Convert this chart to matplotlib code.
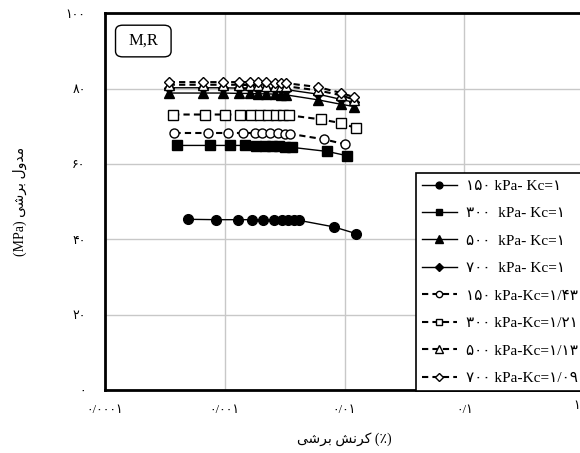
import matplotlib
matplotlib.use("Agg")
import matplotlib.pyplot as plt
from matplotlib.patches import FancyBboxPatch

plt.rcParams['font.family'] = ['Liberation Serif', 'DejaVu Sans']

# strain (%) and shear modulus (MPa)
strain_150_k1 = [0.00049, 0.00085, 0.0013, 0.0017, 0.0021, 0.0026, 0.0030, 0.0034, 0.0038, 0.0042, 0.0081, 0.0125]
mod_150_k1 = [45.3, 45.2, 45.2, 45.2, 45.1, 45.0, 45.0, 45.0, 45.0, 45.0, 43.3, 41.5]

strain_300_k1 = [0.00040, 0.00075, 0.0011, 0.00147, 0.00184, 0.00215, 0.00246, 0.00282, 0.00316, 0.00362, 0.0072, 0.0104]
mod_300_k1 = [64.9, 64.9, 64.9, 64.9, 64.8, 64.8, 64.7, 64.7, 64.6, 64.4, 63.3, 62.2]

strain_500_k1 = [0.00034, 0.00066, 0.00097, 0.00131, 0.00162, 0.0019, 0.00222, 0.00261, 0.00297, 0.00327, 0.0060, 0.0094, 0.0121]
mod_500_k1 = [78.8, 78.8, 78.8, 78.7, 78.7, 78.6, 78.6, 78.5, 78.4, 78.3, 77.0, 75.8, 75.2]

strain_700_k1 = [0.00034, 0.00066, 0.00097, 0.00131, 0.00162, 0.0019, 0.00222, 0.00261, 0.00297, 0.00327, 0.0060, 0.0094, 0.0121]
mod_700_k1 = [80.2, 80.2, 80.2, 80.1, 80.1, 80.0, 80.0, 79.9, 79.8, 79.7, 78.5, 77.1, 76.3]

strain_150_k143 = [0.00038, 0.00073, 0.00107, 0.00142, 0.00178, 0.00205, 0.00237, 0.00278, 0.00316, 0.00348, 0.0068, 0.0101]
mod_150_k143 = [68.2, 68.2, 68.2, 68.2, 68.2, 68.2, 68.1, 68.1, 68.0, 68.0, 66.5, 65.2]

strain_300_k121 = [0.00037, 0.00068, 0.0010, 0.00133, 0.00167, 0.00196, 0.0023, 0.0027, 0.00306, 0.00343, 0.0064, 0.0094, 0.0125]
mod_300_k121 = [73.1, 73.1, 73.1, 73.1, 73.1, 73.1, 73.0, 73.0, 73.0, 72.9, 71.8, 70.8, 69.5]

strain_500_k113 = [0.00034, 0.00066, 0.00097, 0.00131, 0.00162, 0.0019, 0.00222, 0.00261, 0.00297, 0.00327, 0.0060, 0.0094, 0.0121]
mod_500_k113 = [81.0, 81.0, 81.0, 81.0, 80.9, 80.9, 80.8, 80.8, 80.7, 80.6, 79.5, 78.2, 77.0]

strain_700_k109 = [0.00034, 0.00066, 0.00097, 0.00131, 0.00162, 0.0019, 0.00222, 0.00261, 0.00297, 0.00327, 0.0060, 0.0094, 0.0121]
mod_700_k109 = [81.7, 81.7, 81.7, 81.7, 81.7, 81.6, 81.6, 81.5, 81.5, 81.4, 80.4, 78.8, 77.7]

labels = ['۱۵۰ kPa- Kc=۱', '۳۰۰  kPa- Kc=۱', '۵۰۰  kPa- Kc=۱', '۷۰۰  kPa- Kc=۱',
          '۱۵۰ kPa-Kc=۱/۴۳', '۳۰۰ kPa-Kc=۱/۲۱', '۵۰۰ kPa-Kc=۱/۱۳', '۷۰۰ kPa-Kc=۱/۰۹']

x_ticks = [0.0001, 0.001, 0.01, 0.1, 1]
x_ticklabels = ['۰/۰۰۰۱', '۰/۰۰۱', '۰/۰۱', '۰/۱', '۱']
y_ticks = [0, 20, 40, 60, 80, 100]
y_ticklabels = ['۰', '۲۰', '۴۰', '۶۰', '۸۰', '۱۰۰']

# persian words already in visual (shaped, left-to-right) order
w_modul = '\uFEDD\uFEED\uFEAA\uFEE3'
w_barshi = '\uFBFD\uFEB7\uFEAE\uFE91'
w_kornesh = '\uFEB6\uFEE7\uFEAE\uFB90'

fig = plt.figure(figsize=(5.8, 4.53), dpi=100)
ax = fig.add_axes([0.181, 0.139, 0.826, 0.832])

solid = dict(color='black', lw=1.0, ls='-')
dashed = dict(color='black', lw=1.5, ls=(0, (3, 2)), markerfacecolor='white', markeredgewidth=1.0)

ax.plot(strain_150_k1, mod_150_k1, marker='o', ms=7, label=labels[0], **solid)
ax.plot(strain_300_k1, mod_300_k1, marker='s', ms=6.5, label=labels[1], **solid)
ax.plot(strain_500_k1, mod_500_k1, marker='^', ms=7.5, label=labels[2], **solid)
ax.plot(strain_700_k1, mod_700_k1, marker='D', ms=5.5, label=labels[3], **solid)
ax.plot(strain_150_k143, mod_150_k143, marker='o', ms=6.5, label=labels[4], **dashed)
ax.plot(strain_300_k121, mod_300_k121, marker='s', ms=6.5, label=labels[5], **dashed)
ax.plot(strain_500_k113, mod_500_k113, marker='^', ms=7.5, label=labels[6], **dashed)
ax.plot(strain_700_k109, mod_700_k109, marker='D', ms=5.5, label=labels[7], **dashed)

ax.set_xscale('log')
ax.set_xlim(0.0001, 1)
ax.set_ylim(0, 100)
ax.set_xticks(x_ticks)
# last label sits past the figure edge, so it is drawn by hand a bit to the left
ax.set_xticklabels(x_ticklabels[:-1] + [''])
ax.annotate(x_ticklabels[-1], xy=(x_ticks[-1], 0), xycoords=('data', 'axes fraction'),
            xytext=(-7, -10), textcoords='offset pixels', ha='center', va='top', fontsize=9)
ax.minorticks_off()
ax.set_yticks(y_ticks)
ax.set_yticklabels(y_ticklabels)
ax.tick_params(length=0, labelsize=9, pad=14)
ax.tick_params(axis='x', pad=10)
ax.grid(True, color='#c8c8c8', lw=1.0)
ax.set_axisbelow(True)
for s in ax.spines.values():
    s.set_linewidth(2)
    s.set_color('black')

ax.set_ylabel('(MPa) ' + w_barshi + ' ' + w_modul, fontsize=10, labelpad=28)
ax.set_xlabel(w_barshi + ' ' + w_kornesh + ' (٪)', fontsize=10, labelpad=12)

leg = ax.legend(loc='upper left', bbox_to_anchor=(0.6485, 0.5756), borderaxespad=0,
                fontsize=11, labelspacing=0.9, handlelength=2.3, handletextpad=0.6,
                markerscale=0.7, fancybox=False, edgecolor='black', framealpha=1)
leg.get_frame().set_linewidth(1.2)

box = FancyBboxPatch((0.022, 0.884), 0.116, 0.084, boxstyle='round,pad=0,rounding_size=0.015',
                     transform=ax.transAxes, fc='white', ec='black', lw=1)
ax.add_patch(box)
ax.text(0.08, 0.926, 'M,R', transform=ax.transAxes, ha='center', va='center', fontsize=12)

fig.savefig('out.png', dpi=100)
